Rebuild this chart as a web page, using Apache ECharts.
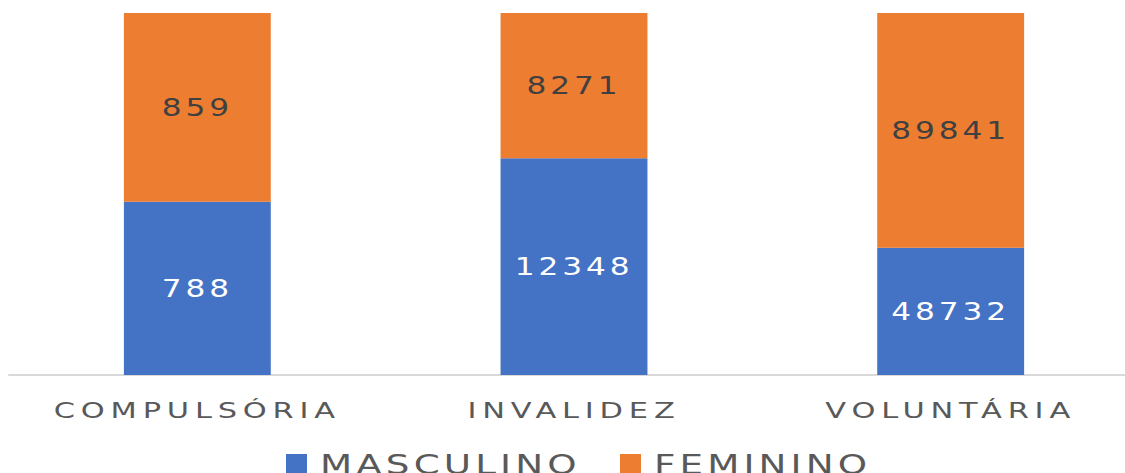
<!DOCTYPE html>
<html>
<head>
<meta charset="utf-8">
<script src="https://cdn.jsdelivr.net/npm/echarts@6/dist/echarts.min.js"></script>
<style>
  html, body { margin: 0; padding: 0; background: #fff; }
  #chart { width: 1125px; height: 473px; }
  #chart text { letter-spacing: 3px; }
</style>
</head>
<body>
<div id="chart"></div>
<script>
const categories = ['COMPULSÓRIA', 'INVALIDEZ', 'VOLUNTÁRIA'];
const masculino = [788, 12348, 48732];
const feminino = [859, 8271, 89841];

// 100% stacked: share of each category total
const totals = masculino.map((v, i) => v + feminino[i]);
const mascPct = masculino.map((v, i) => v / totals[i] * 100);
const femPct = feminino.map((v, i) => v / totals[i] * 100);

const chart = echarts.init(document.getElementById('chart'), null, { renderer: 'svg' });
const font = 'DejaVu Sans';

var option = {
  animation: false,
  grid: {
    left: 9,
    top: 13,
    width: 1130,
    height: 362,
    containLabel: false,
    outerBoundsMode: 'none'
  },
  legend: {
    data: ['MASCULINO', 'FEMININO'],
    top: 451,
    left: 286,
    padding: 0,
    itemWidth: 21,
    itemHeight: 21,
    itemGap: 138,
    icon: 'rect',
    textStyle: { fontFamily: font, fontSize: 27, color: '#595959', padding: [0, 0, 0, 8] }
  },
  xAxis: {
    type: 'category',
    data: categories,
    axisLine: { lineStyle: { color: '#D9D9D9', width: 2 } },
    axisTick: { show: false },
    axisLabel: { fontFamily: font, fontSize: 21, color: '#595959', margin: 25 }
  },
  yAxis: {
    type: 'value',
    min: 0,
    max: 100,
    show: false,
    splitLine: { show: false }
  },
  series: [
    {
      name: 'MASCULINO',
      type: 'bar',
      stack: 'total',
      barWidth: '39%',
      data: mascPct,
      itemStyle: { color: '#4472C4' },
      label: {
        show: true,
        position: 'inside',
        fontFamily: font,
        fontSize: 24,
        color: '#ffffff',
        formatter: (p) => masculino[p.dataIndex]
      }
    },
    {
      name: 'FEMININO',
      type: 'bar',
      stack: 'total',
      barWidth: '39%',
      data: femPct,
      itemStyle: { color: '#ED7D31' },
      label: {
        show: true,
        position: 'inside',
        fontFamily: font,
        fontSize: 24,
        color: '#404040',
        formatter: (p) => feminino[p.dataIndex]
      }
    }
  ]
};
chart.setOption(option);

// the original's text is stretched sideways; widen each svg text in place
var stretched = false;
function stretchText() {
  if (stretched) return;
  stretched = true;
  document.querySelectorAll('#chart svg text').forEach(function (el) {
    var size = parseFloat(getComputedStyle(el).fontSize);
    var sx = 1.3, left = false;
    if (size === 21) { sx = 1.45; el.style.letterSpacing = '4px'; }
    if (size === 27) { sx = 1.38; left = true; }
    var b = el.getBBox();
    var cx = left ? b.x : b.x + b.width / 2;
    var t = el.getAttribute('transform') || '';
    el.setAttribute('transform', t + ' translate(' + cx + ',0) scale(' + sx + ',1) translate(' + (-cx) + ',0)');
  });
}
chart.on('finished', stretchText);
setTimeout(stretchText, 50);
</script>
</body>
</html>
